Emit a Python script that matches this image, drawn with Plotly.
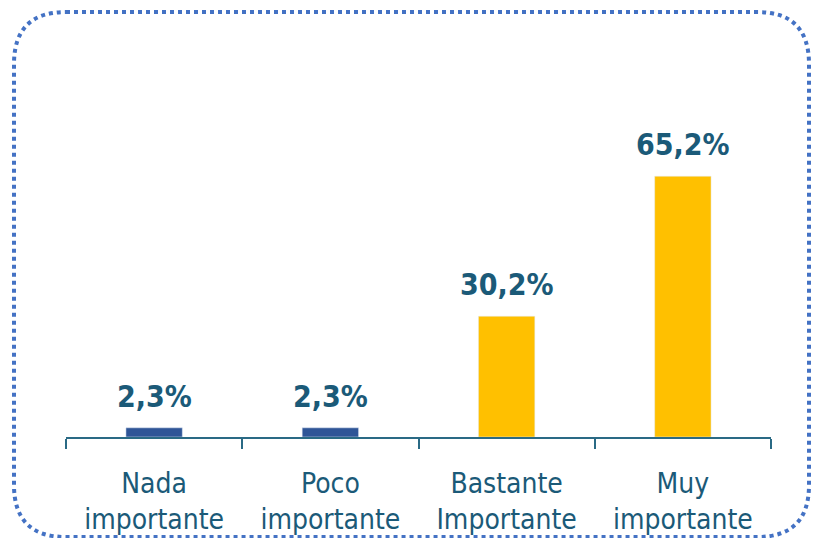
import plotly.graph_objects as go

categories = ["Nada<br>importante", "Poco<br>importante", "Bastante<br>Importante", "Muy<br>importante"]
values = [2.3, 2.3, 30.2, 65.2]
value_labels = ["2,3%", "2,3%", "30,2%", "65,2%"]
bar_colors = ["#2F5597", "#2F5597", "#FFC000", "#FFC000"]

FONT = "DejaVu Sans Condensed, Liberation Sans Narrow, Roboto, sans-serif"

W, H = 813, 538
ML, MR, MT, MB = 66, 42, 137, 101
pw, ph = W - ML - MR, H - MT - MB

def px(x):
    return (x - ML) / pw

def py(y):
    return (H - MB - y) / ph

fig = go.Figure()
fig.add_trace(go.Bar(
    x=categories, y=values, marker_color=bar_colors, width=0.32,
    hoverinfo="skip",
))
for c, v, t in zip(categories, values, value_labels):
    fig.add_annotation(x=c, y=v, text=f"<b>{t}</b>", showarrow=False,
                       yanchor="bottom", yshift=12,
                       font=dict(family=FONT, size=30, color="#1B5A78"))

# rounded dotted border
x0, x1, y0, y1, r = 14, 809, 12, 537, 52
path = (f"M {px(x0+r)},{py(y0)} L {px(x1-r)},{py(y0)} "
        f"Q {px(x1)},{py(y0)} {px(x1)},{py(y0+r)} "
        f"L {px(x1)},{py(y1-r)} Q {px(x1)},{py(y1)} {px(x1-r)},{py(y1)} "
        f"L {px(x0+r)},{py(y1)} Q {px(x0)},{py(y1)} {px(x0)},{py(y1-r)} "
        f"L {px(x0)},{py(y0+r)} Q {px(x0)},{py(y0)} {px(x0+r)},{py(y0)} Z")
fig.add_shape(type="path", path=path, xref="paper", yref="paper",
              line=dict(color="#4472C4", width=4, dash="dot"), layer="above")

fig.update_layout(
    width=W, height=H, margin=dict(l=ML, r=MR, t=MT, b=MB, autoexpand=False),
    plot_bgcolor="white", paper_bgcolor="white", showlegend=False,
    xaxis=dict(showline=True, linecolor="#2A6A85", linewidth=2,
               ticks="outside", tickson="boundaries", ticklen=10, tickwidth=2,
               tickcolor="#2A6A85", ticklabelstandoff=20, automargin=False,
               tickfont=dict(family=FONT, size=28, color="#1B5A78"),
               showgrid=False, fixedrange=True),
    yaxis=dict(range=[0, 75], visible=False, showgrid=False, fixedrange=True,
               automargin=False),
)
fig.write_html("out.html", config={"displayModeBar": False})
with open("out.html", encoding="utf-8") as f:
    html = f.read()
html = html.replace("<head>", "<head><style>html,body{margin:0;padding:0;overflow:hidden}</style>", 1)
with open("out.html", "w", encoding="utf-8") as f:
    f.write(html)
